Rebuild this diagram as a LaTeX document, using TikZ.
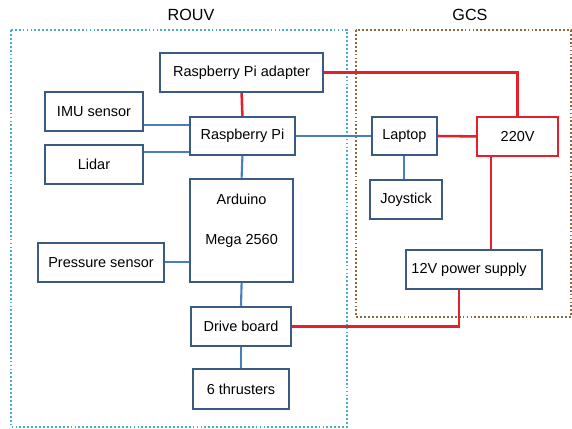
\documentclass[tikz,border=0pt]{standalone}
\usepackage{fontspec}
\setmainfont{Liberation Sans}
\usetikzlibrary{positioning}
\definecolor{boxblue}{HTML}{3B5A82}
\definecolor{lineblue}{HTML}{4A7EBB}
\definecolor{pwrred}{HTML}{E3202B}
\definecolor{rouvcyan}{HTML}{4BACC6}
\definecolor{gcsbrown}{HTML}{8C6A3C}
\begin{document}
\begin{tikzpicture}[
  blk/.style={draw=boxblue,line width=1.5pt,fill=white,align=center,font=\fontsize{10.3}{12}\selectfont,inner sep=2pt},
  pwrblk/.style={blk,draw=pwrred},
  sig/.style={draw=lineblue,line width=1.5pt},
  pwr/.style={draw=pwrred,line width=1.8pt},
  zone/.style={line width=2pt,dash pattern=on 1.3pt off 1.5pt},
  zonelabel/.style={font=\fontsize{11.5}{13}\selectfont}]
\useasboundingbox (0,0) rectangle (14.3,-10.7);
% containers
\draw[zone,draw=rouvcyan] (0.275,-0.75) rectangle (8.675,-10.675);
\draw[zone,draw=gcsbrown] (8.9,-0.75) rectangle (14.275,-7.925);
\node[zonelabel] (rouvlbl) at (4.775,-0.375) {ROUV};
\node[zonelabel] (gcslbl) at (11.75,-0.375) {GCS};
% blocks
\node[blk,minimum width=4.08cm,minimum height=0.98cm] (adp) at (6.04,-1.81) {Raspberry Pi adapter};
\node[blk,minimum width=2.45cm,minimum height=0.98cm] (imu) at (2.35,-2.79) {IMU sensor};
\node[blk,minimum width=2.63cm,minimum height=0.95cm] (rpi) at (6.06,-3.40) {Raspberry Pi};
\node[blk,minimum width=2.45cm,minimum height=0.98cm] (lid) at (2.35,-4.11) {Lidar};
\node[blk,minimum width=2.58cm,minimum height=2.58cm] (ard) at (6.04,-5.76) {Arduino\\[16pt]Mega 2560\\[4pt]};
\node[blk,minimum width=3.15cm,minimum height=0.98cm] (prs) at (2.525,-6.56) {Pressure sensor};
\node[blk,minimum width=2.5cm,minimum height=0.98cm] (drv) at (6.025,-8.16) {Drive board};
\node[blk,minimum width=2.4cm,minimum height=1.0cm] (thr) at (6.025,-9.725) {6 thrusters};
\node[blk,minimum width=1.63cm,minimum height=0.95cm] (lap) at (10.11,-3.40) {Laptop};
\node[pwrblk,minimum width=2.03cm,minimum height=0.98cm] (ac) at (12.94,-3.41) {220V};
\node[blk,minimum width=1.8cm,minimum height=0.98cm] (joy) at (10.15,-4.99) {Joystick};
\node[blk,minimum width=3.4cm,minimum height=0.98cm] (psu) at (11.85,-6.74) {\hspace*{-0.25cm}12V power supply};
% helper points
\path (imu.east) ++(0,-0.33) coordinate (imuout);
\path (lid.east) ++(0,0.3) coordinate (lidout);
\path (ac.south) ++(-0.66,0) coordinate (acout);
\path (psu.south) ++(-0.375,0) coordinate (psuout);
% signal lines
\draw[sig] (imuout) -- (imuout -| rpi.west);
\draw[sig] (lidout) -- (lidout -| rpi.west);
\draw[sig] (rpi.south) -- (ard.north);
\draw[sig] (prs.east) -- (prs.east -| ard.west);
\draw[sig] (ard.south) -- (drv.north);
\draw[sig] (drv.south) -- (thr.north);
\draw[sig] (rpi.east) -- (lap.west);
\draw[sig] (lap.south) -- (lap.south |- joy.north);
% power lines
\draw[pwr] (adp.south) -- (rpi.north);
\draw[pwr] (adp.east) -| (ac.north);
\draw[pwr] (lap.east) -- (ac.west);
\draw[pwr] (acout) -- (acout |- psu.north);
\draw[pwr] (psuout) |- (drv.east);
\end{tikzpicture}
\end{document}
